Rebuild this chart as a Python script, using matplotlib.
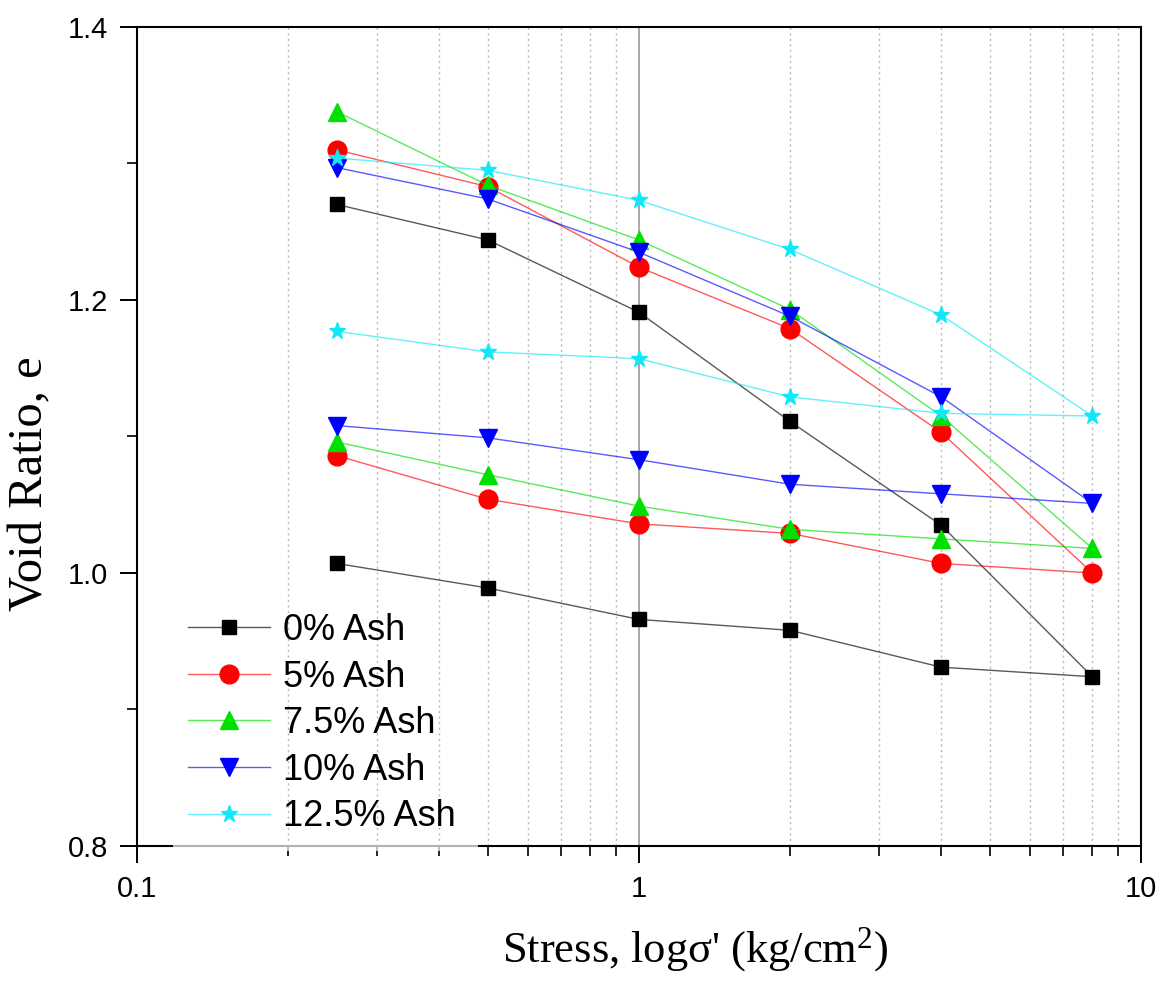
import matplotlib
matplotlib.use("Agg")
import matplotlib.pyplot as plt
from matplotlib.colors import to_rgba
from matplotlib.ticker import LogLocator, NullFormatter, FixedLocator, FixedFormatter, MultipleLocator
from matplotlib.patches import Rectangle

plt.rcParams['font.family'] = ['Liberation Sans', 'DejaVu Sans']
plt.rcParams['mathtext.fontset'] = 'custom'
plt.rcParams['mathtext.rm'] = 'Liberation Serif'
plt.rcParams['mathtext.it'] = 'Liberation Serif:italic'

# Stress path: loading 0.25 -> 8 then unloading back to 0.25 (kg/cm^2)
stress = [0.25, 0.5, 1, 2, 4, 8, 4, 2, 1, 0.5, 0.25]

labels = ["0% Ash", "5% Ash", "7.5% Ash", "10% Ash", "12.5% Ash"]
e_0 = [1.270, 1.244, 1.191, 1.111, 1.035, 0.924, 0.931, 0.958, 0.966, 0.989, 1.007]
e_5 = [1.310, 1.283, 1.224, 1.179, 1.103, 1.000, 1.007, 1.029, 1.036, 1.054, 1.086]
e_75 = [1.338, 1.284, 1.244, 1.193, 1.115, 1.018, 1.025, 1.032, 1.049, 1.072, 1.096]
e_10 = [1.297, 1.274, 1.235, 1.188, 1.129, 1.051, 1.058, 1.065, 1.083, 1.099, 1.108]
e_125 = [1.304, 1.295, 1.273, 1.237, 1.189, 1.115, 1.117, 1.129, 1.157, 1.162, 1.177]
series = [e_0, e_5, e_75, e_10, e_125]

colors = ["#000000", "#ff0000", "#00e000", "#0000ff", "#10e8f8"]
markers = ["s", "o", "^", "v", "*"]
msizes = [10.5, 13.5, 13, 13, 12.5]

fig = plt.figure(figsize=(11.71, 9.85), dpi=100)
ax = fig.add_axes([137/1171, (985-846)/985, (1141-137)/1171, 819/985])

for vals, c, m, ms, lab in zip(series, colors, markers, msizes, labels):
    ax.plot(stress, vals, color=to_rgba(c, 0.65), lw=1.0, marker=m, markersize=ms,
            markerfacecolor=c, markeredgecolor=c, label=lab, zorder=3)

ax.set_xscale('log')
ax.set_xlim(0.1, 10)
ax.set_ylim(0.8, 1.4)

ax.xaxis.set_major_locator(FixedLocator([0.1, 1, 10]))
ax.xaxis.set_major_formatter(FixedFormatter(["0.1", "1", "10"]))
ax.xaxis.set_minor_locator(LogLocator(base=10, subs=[2, 3, 4, 5, 6, 7, 8, 9]))
ax.xaxis.set_minor_formatter(NullFormatter())
ax.yaxis.set_major_locator(FixedLocator([0.8, 1.0, 1.2, 1.4]))
ax.yaxis.set_major_formatter(FixedFormatter(["0.8", "1.0", "1.2", "1.4"]))
ax.yaxis.set_minor_locator(MultipleLocator(0.1))

ax.tick_params(axis='both', which='major', direction='out', length=12, width=1.4,
               labelsize=21, color='black')
ax.tick_params(axis='both', which='minor', direction='out', length=7, width=1.2)
ax.tick_params(axis='x', which='major', pad=9)
ax.tick_params(axis='y', which='major', pad=9)

ax.grid(True, axis='x', which='major', color='#a8a8a8', lw=1.4, ls='-', zorder=1)
ax.grid(True, axis='x', which='minor', color='#b8b8b8', lw=1.0, ls=(0, (1.5, 2.5)), zorder=1)
ax.set_axisbelow(True)

for sp in ax.spines.values():
    sp.set_linewidth(1.5)
    sp.set_color('black')

ax.set_xlabel("Stress, logσ' (kg/cm$^{2}$)", family='Liberation Serif', fontsize=32)
ax.set_ylabel("Void Ratio, e", family='Liberation Serif', fontsize=35)
ax.xaxis.set_label_coords(0.556, -0.097)
ax.yaxis.set_label_coords(-0.084, 0.442)

leg = ax.legend(loc='upper left', bbox_to_anchor=(0.0508, 0.2845), frameon=False,
                fontsize=26, handlelength=2.27, handletextpad=0.36, labelspacing=0.32,
                borderpad=0, borderaxespad=0)
leg.set_zorder(5)

# faded spine section behind the legend area (as in the source figure)
ax.add_patch(Rectangle(((173-137)/1004, -0.006), (478-173)/1004, 0.012,
                       transform=ax.transAxes, facecolor='white', edgecolor='none',
                       alpha=0.7, zorder=4, clip_on=False))

fig.savefig("out.png", dpi=100)
